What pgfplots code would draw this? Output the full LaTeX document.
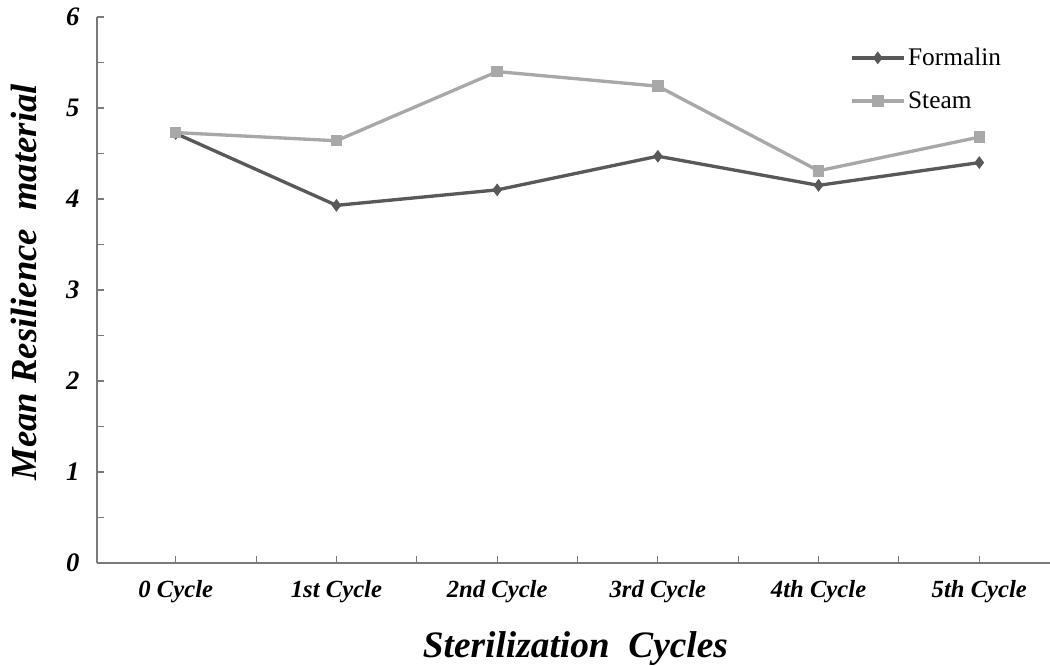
\documentclass[border=0pt]{standalone}
\usepackage{pgfplots}
\pgfplotsset{compat=1.18}
\usepackage{fontspec}
\setmainfont{Liberation Serif}
\definecolor{form}{HTML}{595959}
\definecolor{steam}{HTML}{A8A8A8}
\definecolor{axgray}{HTML}{7A7A7A}
\begin{document}
\begin{tikzpicture}
\useasboundingbox (0,0) rectangle (787.5pt,499.5pt);
\begin{axis}[
  at={(72.75pt,77.25pt)}, anchor=south west,
  scale only axis, width=714.75pt, height=409.5pt,
  xmin=-0.49, xmax=5.44, ymin=0, ymax=6,
  axis x line=bottom, axis y line=left,
  axis line style={-, axgray, line width=1pt},
  xtick={0,...,5},
  xticklabels={0 Cycle, 1st Cycle, 2nd Cycle, 3rd Cycle, 4th Cycle, 5th Cycle},
  minor xtick={0.5,1.5,2.5,3.5,4.5},
  ytick={0,...,6}, minor ytick={0.5,1.5,2.5,3.5,4.5,5.5},
  tick align=inside, major tick length=5pt, minor tick length=5pt,
  tick style={axgray, line width=0.8pt},
  /pgf/number format/assume math mode=true,
  xticklabel style={font=\fontsize{18.5}{20}\selectfont\bfseries\itshape, anchor=base, inner sep=0pt, yshift=-26.25pt},
  yticklabel style={font=\fontsize{20}{22}\selectfont\bfseries\itshape, anchor=east, inner sep=0pt, xshift=-13pt},
  xlabel={Sterilization\ \ Cycles},
  ylabel={Mean Resilience\ \ material},
  xlabel style={at={([yshift=-71.25pt]rel axis cs:0.502,0)}, anchor=base, inner sep=0pt, font=\fontsize{28}{30}\selectfont\bfseries\itshape},
  ylabel style={at={([xshift=-45pt]rel axis cs:0,0.514)}, anchor=base, rotate=0, inner sep=0pt, font=\fontsize{27.5}{29}\selectfont\bfseries\itshape},
  legend style={draw=none, fill=none, at={(rel axis cs:0.79,0.886)}, anchor=west, inner sep=0pt,
    font=\fontsize{19}{21}\selectfont, row sep=14pt, nodes={inner sep=2pt}},
  legend cell align=left,
  legend image code/.code={\draw[mark repeat=2,mark phase=2,#1] plot coordinates {(0pt,0pt) (19.5pt,0pt) (39pt,0pt)};},
]
\addplot[form, line width=2.5pt, mark=diamond*, mark size=4pt, mark options={solid, fill=form, line width=1pt}]
  coordinates {(0,4.72) (1,3.93) (2,4.10) (3,4.47) (4,4.15) (5,4.40)};
\addlegendentry{Formalin}
\addplot[steam, line width=2.5pt, mark=square*, mark size=3.8pt, mark options={solid, fill=steam, line width=1pt}]
  coordinates {(0,4.73) (1,4.64) (2,5.40) (3,5.24) (4,4.31) (5,4.68)};
\addlegendentry{Steam}
\end{axis}
\end{tikzpicture}
\end{document}
